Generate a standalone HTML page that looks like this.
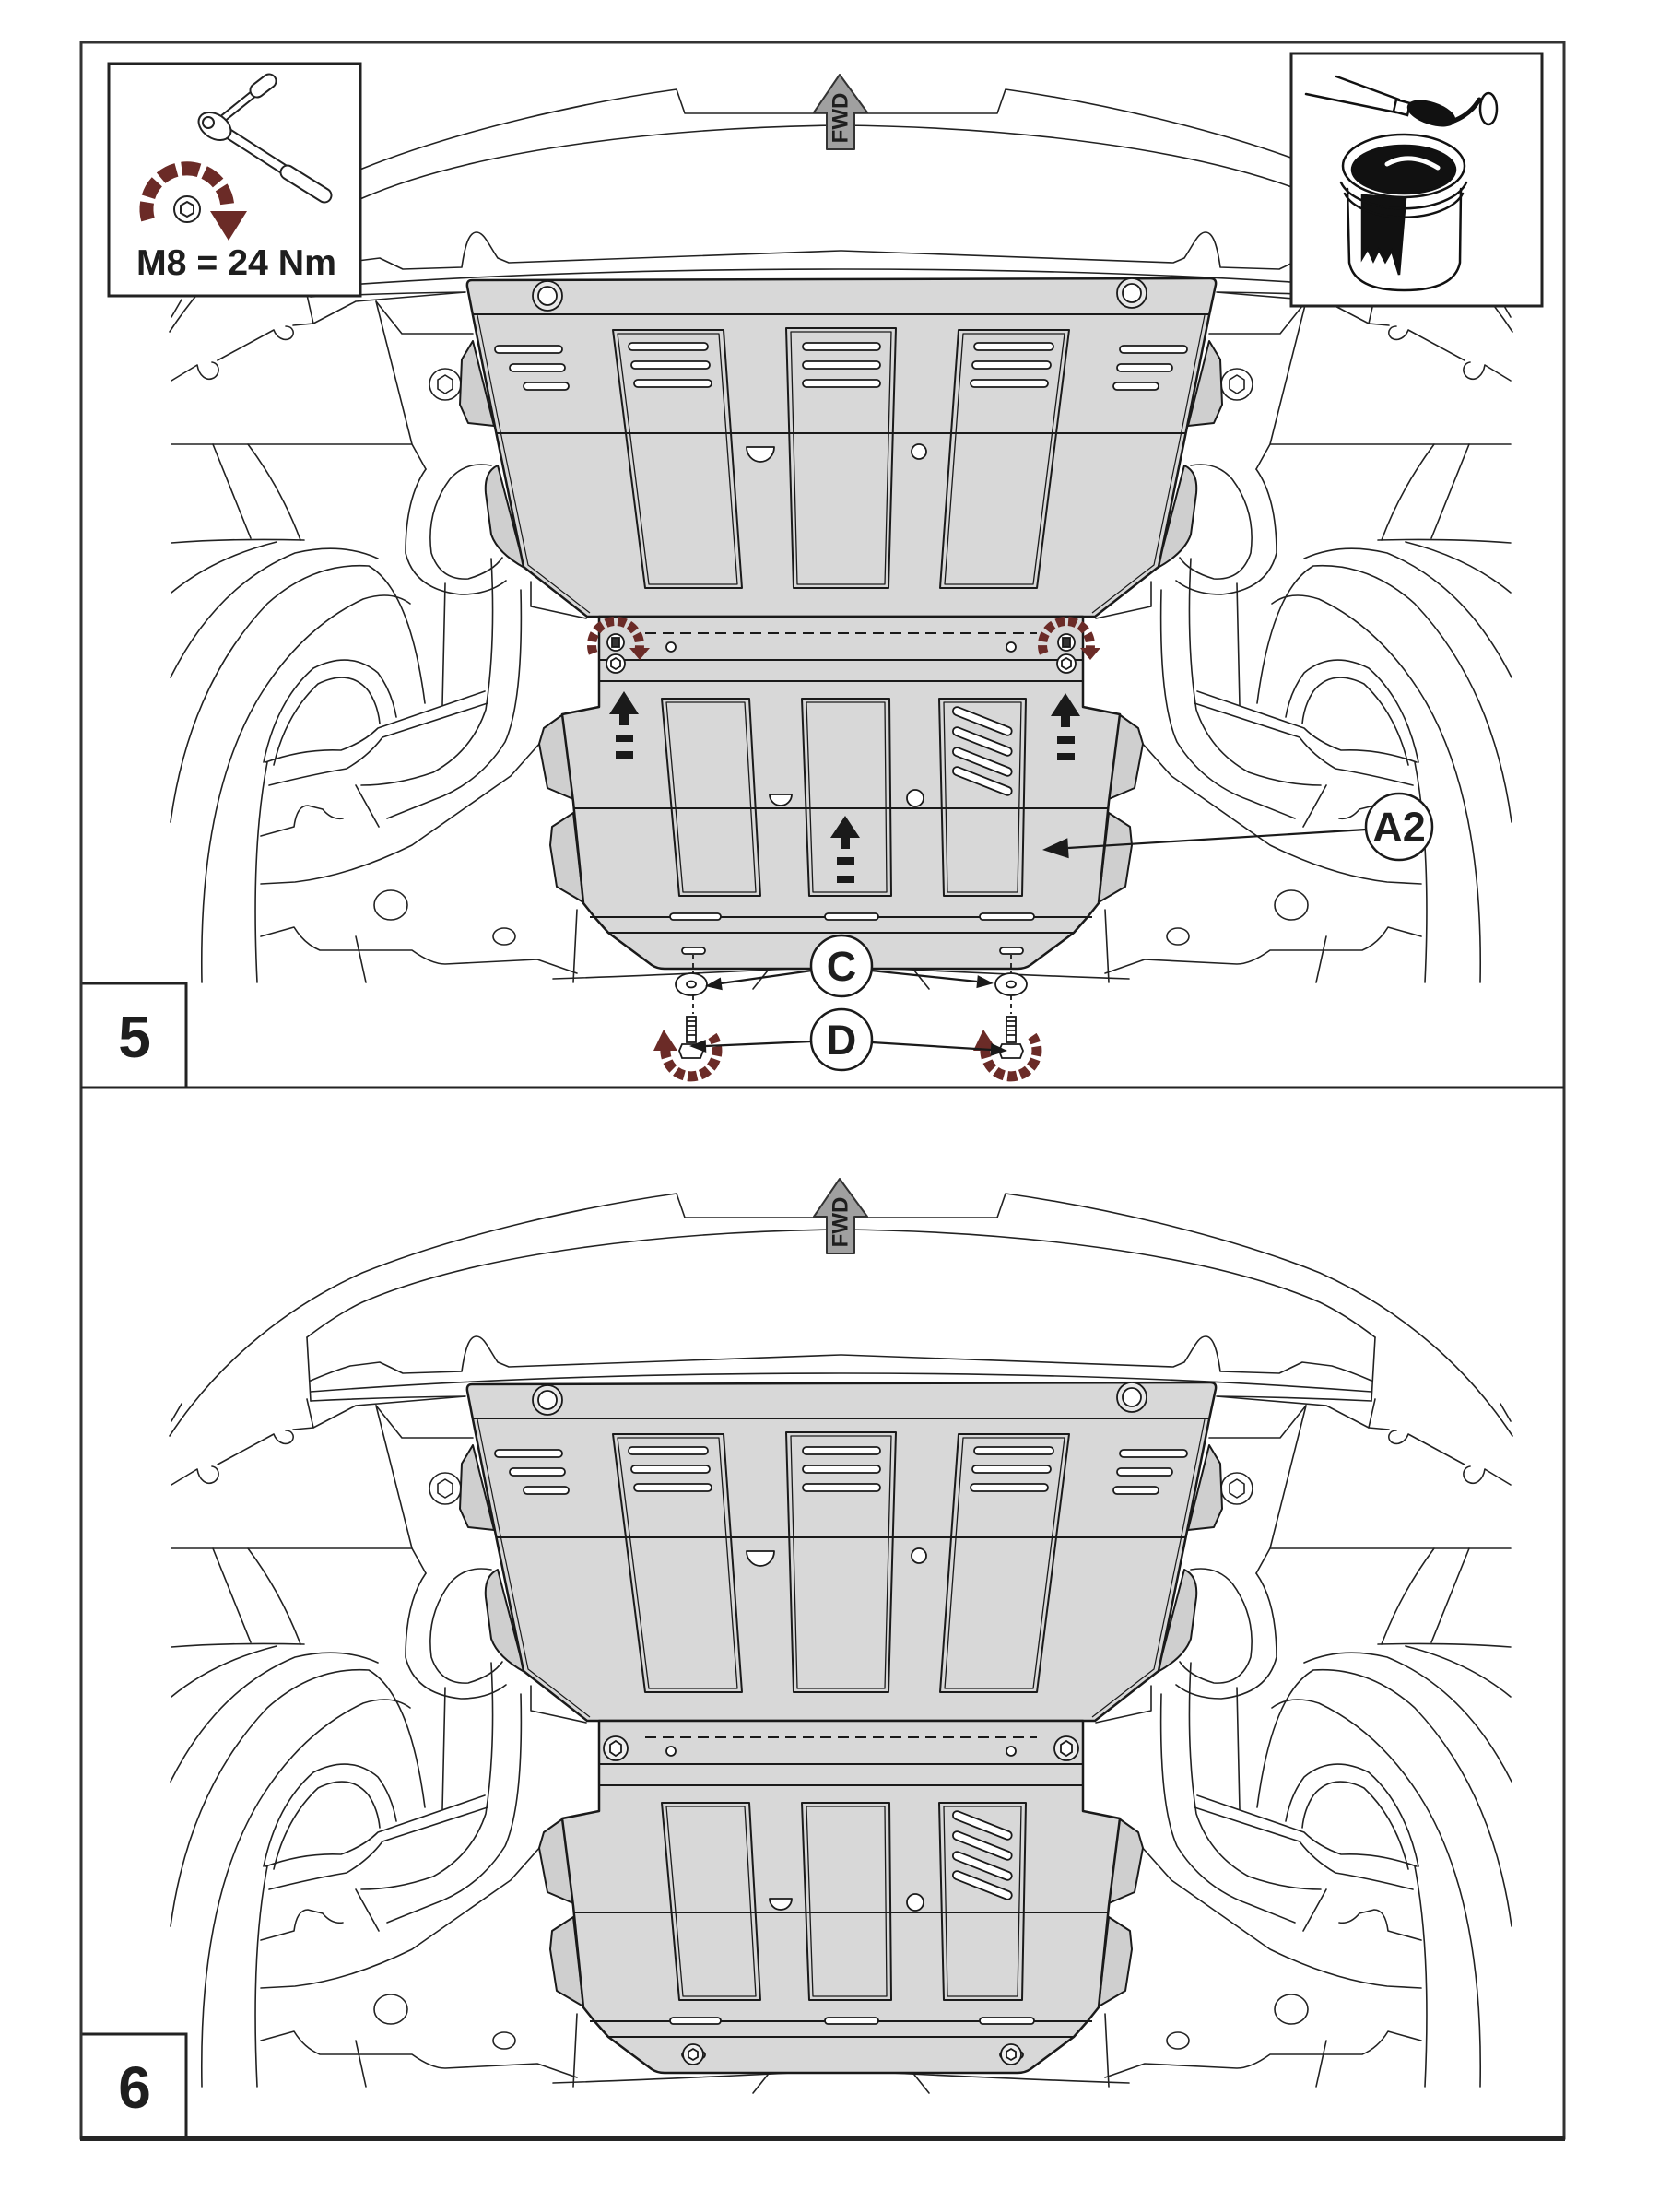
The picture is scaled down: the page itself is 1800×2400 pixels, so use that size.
<!DOCTYPE html>
<html><head><meta charset="utf-8"><style>
html,body{margin:0;padding:0;background:#fff;}
svg{display:block;}
text{font-family:"Liberation Sans",Arial,sans-serif;font-weight:bold;fill:#1e1e1e;}
</style></head><body>
<svg width="1800" height="2400" viewBox="0 0 1800 2400" xmlns="http://www.w3.org/2000/svg">
<defs>
<clipPath id="c5"><rect x="90" y="48" width="1605" height="1130"/></clipPath>
<clipPath id="c6"><rect x="90" y="1182" width="1605" height="1134"/></clipPath>

<g id="bgL" fill="none" stroke="#222" stroke-width="1.6" stroke-linejoin="round" stroke-linecap="round">
<path d="M184 360 C230 290 300 225 393 183 C500 140 640 110 734 97 L743 123 L912 123"/>
<path d="M333 253 C350 240 370 226 393 215 C520 160 730 138 912 136"/>
<path d="M333 253 L337 322"/>
<path d="M337 300 Q360 290 380 284 L412 280 L437 292 L501 290 C505 262 510 252 517 252 C525 252 530 265 540 280 L552 285 L912 272"/>
<path d="M337 312 Q600 292 912 292"/>
<path d="M337 322 Q420 318 504 317"/>
<path d="M186 413 L214 396 C216 408 224 414 232 410 C240 405 238 394 230 393 M236 391 L297 358 C300 366 308 371 315 367 C321 362 318 354 310 354 M318 353 L340 351 L386 327 L505 317"/>
<path d="M186 344 L197 325"/>
<path d="M333 320 L340 351"/>
<path d="M408 327 L436 362 L513 362"/>
<path d="M408 327 L447 482 L462 509"/>
<path d="M186 482 L447 482"/>
<path d="M231 482 L272 584"/>
<path d="M269 482 Q305 530 326 586"/>
<path d="M186 589 Q250 584 330 586"/>
<path d="M186 643 Q232 605 300 588"/>
<path d="M185 735 Q235 635 320 600 Q370 588 410 606"/>
<path d="M185 892 Q205 745 290 655 Q340 610 400 614 Q445 640 461 763"/>
<path d="M219 1066 Q215 860 285 750 Q330 680 394 650 Q425 640 445 655"/>
<path d="M279 1066 Q272 920 290 827"/>
<path d="M286 827 Q300 760 340 725 Q380 705 410 730 Q425 750 430 778"/>
<path d="M297 830 Q310 775 345 742 Q380 725 400 750 Q410 765 412 785"/>
<path d="M288 827 Q330 812 370 814 Q395 805 410 790 L526 750"/>
<path d="M292 852 Q340 840 376 834 Q400 820 415 800 L529 763"/>
<path d="M283 959 L320 957 Q380 950 447 917 Q500 880 554 842 L611 778"/>
<path d="M283 1016 L319 1006 Q330 1024 347 1031 L447 1031 Q468 1046 483 1046 L583 1041 L626 1056"/>
<path d="M283 907 L319 897 Q322 874 334 874 L350 878 Q360 890 372 888"/>
<path d="M386 852 L411 897"/>
<ellipse cx="424" cy="982" rx="18" ry="16"/>
<ellipse cx="547" cy="1016" rx="12" ry="9"/>
<path d="M533 606 Q538 700 527 770 Q512 815 470 838 Q430 852 392 852"/>
<path d="M565 640 Q568 760 548 805 Q520 850 470 868 Q440 880 420 888"/>
<path d="M462 509 Q440 540 440 600 Q450 640 500 645 Q530 645 549 630"/>
<path d="M533 505 Q505 500 488 520 Q462 555 468 600 Q478 630 508 628 Q535 620 545 605"/>
<path d="M483 633 L480 765"/>
<path d="M576 631 L576 658 L636 671"/>
<path d="M626 987 L622 1066"/>
<path d="M600 1062 Q720 1058 880 1050"/>
<path d="M817 1073 L833 1053"/>
<path d="M386 1016 L397 1066"/>
<circle cx="483" cy="417" r="17"/>
<path d="M475 412 L483 407 L491 412 L491 422 L483 427 L475 422 Z"/>
</g>

<g id="scene">
<use href="#bgL"/>
<use href="#bgL" transform="matrix(-1 0 0 1 1825 0)"/>
<g stroke="#1a1a1a" stroke-width="2" stroke-linejoin="round">
<path fill="#cfcfcf" d="M513 370 L501 390 L499 439 L508 459 L536 462 Z"/>
<path fill="#cfcfcf" d="M1312 370 L1324 390 L1326 439 L1317 459 L1289 462 Z"/>
<path fill="#cfcfcf" d="M540 505 Q525 512 527 535 L533 580 Q540 600 569 616 Z"/>
<path fill="#cfcfcf" d="M1285 505 Q1300 512 1298 535 L1292 580 Q1285 600 1256 616 Z"/>
<path fill="#cfcfcf" d="M611 775 L590 790 L585 807 L594 855 L622 867 Z"/>
<path fill="#cfcfcf" d="M1214 775 L1235 790 L1240 807 L1231 855 L1203 867 Z"/>
<path fill="#cfcfcf" d="M622 882 L599 897 L597 917 L604 962 L633 979 Z"/>
<path fill="#cfcfcf" d="M1203 882 L1226 897 L1228 917 L1221 962 L1192 979 Z"/>
<path fill="#d8d8d8" stroke-width="2.5" d="M512 304 L1313 302 Q1320 302 1319 309 L1312 342 L1287 468 L1257 615 L1188 669 L637 669 L568 615 L538 468 L513 342 L507 311 Q506 304 512 304 Z"/>
<path fill="#d8d8d8" stroke-width="2.5" d="M650 669 L1175 669 L1175 767 L1215 775 L1203 870 L1192 980 L1180 995 L1165 1012 L1118 1047 Q1112 1051 1104 1051 L721 1051 Q713 1051 707 1047 L660 1012 L645 995 L633 980 L622 870 L610 775 L650 767 Z"/>
<g fill="none">
<path d="M513 341 L1312 341"/>
<path d="M538 470 L1287 470"/>
<path stroke-width="1.2" d="M518 342 L543 468 L573 613 L640 665"/>
<path stroke-width="1.2" d="M1307 342 L1282 468 L1252 613 L1185 665"/>
<path d="M700 687 L1125 687" stroke-dasharray="12 7"/>
<path d="M650 716 L1175 716"/>
<path d="M650 739 L1175 739"/>
<path d="M622 877 L1203 877"/>
<path d="M640 995 L1185 995"/>
<path d="M660 1012 L1165 1012"/>
<path d="M665 358 L785 358 L805 638 L700 638 Z"/>
<path stroke-width="1.3" d="M670 362 L780 362 L800 634 L704 634 Z"/>
<path d="M853 356 L972 356 L964 638 L861 638 Z"/>
<path stroke-width="1.3" d="M858 360 L967 360 L960 634 L865 634 Z"/>
<path d="M1160 358 L1040 358 L1020 638 L1125 638 Z"/>
<path stroke-width="1.3" d="M1155 362 L1045 362 L1025 634 L1121 634 Z"/>
<path d="M718 758 L813 758 L825 972 L737 972 Z"/>
<path stroke-width="1.3" d="M723 762 L808 762 L820 968 L741 968 Z"/>
<path d="M870 758 L965 758 L967 972 L878 972 Z"/>
<path stroke-width="1.3" d="M875 762 L960 762 L962 968 L882 968 Z"/>
<path d="M1019 758 L1113 758 L1109 972 L1024 972 Z"/>
<path stroke-width="1.3" d="M1024 762 L1108 762 L1104 968 L1028 968 Z"/>
</g>
<g fill="#fff" stroke-width="1.8">
<rect x="537" y="375" width="73" height="8" rx="4"/>
<rect x="553" y="395" width="60" height="8" rx="4"/>
<rect x="568" y="415" width="49" height="8" rx="4"/>
<rect x="1215" y="375" width="73" height="8" rx="4"/>
<rect x="1212" y="395" width="60" height="8" rx="4"/>
<rect x="1208" y="415" width="49" height="8" rx="4"/>
<rect x="682" y="372" width="86" height="8" rx="4"/>
<rect x="685" y="392" width="85" height="8" rx="4"/>
<rect x="688" y="412" width="84" height="8" rx="4"/>
<rect x="871" y="372" width="84" height="8" rx="4"/>
<rect x="871" y="392" width="84" height="8" rx="4"/>
<rect x="871" y="412" width="84" height="8" rx="4"/>
<rect x="1057" y="372" width="86" height="8" rx="4"/>
<rect x="1055" y="392" width="85" height="8" rx="4"/>
<rect x="1053" y="412" width="84" height="8" rx="4"/>
<path d="M810 485 L840 485 A15 16 0 0 1 810 485 Z"/>
<circle cx="997" cy="490" r="8"/>
<path d="M835 862 L859 862 A12 12 0 0 1 835 862 Z"/>
<circle cx="993" cy="866" r="9"/>
<circle cx="728" cy="702" r="5"/>
<circle cx="1097" cy="702" r="5"/>
<rect x="727" y="991" width="55" height="7" rx="3.5"/>
<rect x="895" y="991" width="58" height="7" rx="3.5"/>
<rect x="1063" y="991" width="59" height="7" rx="3.5"/>
<rect x="740" y="1028" width="25" height="7" rx="3.5"/>
<rect x="1085" y="1028" width="25" height="7" rx="3.5"/>
<g transform="rotate(21.6 1066 782)"><rect x="1032" y="778" width="68" height="9" rx="4.5"/></g>
<g transform="rotate(21.6 1066 804)"><rect x="1032" y="800" width="68" height="9" rx="4.5"/></g>
<g transform="rotate(21.6 1066 826)"><rect x="1032" y="822" width="68" height="9" rx="4.5"/></g>
<g transform="rotate(21.6 1066 847)"><rect x="1032" y="843" width="68" height="9" rx="4.5"/></g>
<circle cx="594" cy="321" r="16" fill="#e8e8e8"/>
<circle cx="594" cy="321" r="10"/>
<circle cx="1228" cy="318" r="16" fill="#e8e8e8"/>
<circle cx="1228" cy="318" r="10"/>
</g>
</g>
<path d="M911 81 L941 122 L927 122 L927 162 L897 162 L897 122 L883 122 Z" fill="#a0a0a0" stroke="#333" stroke-width="2" stroke-linejoin="round"/>
</g>
</defs>

<!-- panel 5 -->
<g clip-path="url(#c5)"><use href="#scene"/></g>
<text transform="translate(912,128) rotate(-90)" font-size="24" text-anchor="middle" dominant-baseline="central">FWD</text>

<!-- panel 5 overlays -->
<g stroke="#1a1a1a" stroke-width="1.8">
<circle cx="668" cy="697" r="9" fill="#fff"/><rect x="664" y="692" width="8" height="10" fill="#333"/>
<circle cx="668" cy="720" r="10" fill="#fff"/><path d="M663 717 L668 714 L673 717 L673 723 L668 726 L663 723 Z" fill="#fff"/>
<circle cx="1157" cy="697" r="9" fill="#fff"/><rect x="1153" y="692" width="8" height="10" fill="#333"/>
<circle cx="1157" cy="720" r="10" fill="#fff"/><path d="M1152 717 L1157 714 L1162 717 L1162 723 L1157 726 L1152 723 Z" fill="#fff"/>
</g>
<g fill="none" stroke="#6b2b27" stroke-width="10" stroke-dasharray="9 4">
<path d="M643.6 708.9 A26 26 0 1 1 693.6 704.5"/>
<path d="M1132.6 708.9 A26 26 0 1 1 1182.6 704.5"/>
</g>
<g fill="#6b2b27">
<path d="M683 703 L705 703 L694 716 Z"/>
<path d="M1172 703 L1194 703 L1183 716 Z"/>
</g>
<g fill="#1a1a1a">
<path d="M677 750 L693 775 L682 775 L682 787 L672 787 L672 775 L661 775 Z"/><rect x="668" y="797" width="19" height="8"/><rect x="668" y="815" width="19" height="8"/>
<path d="M1156 752 L1172 777 L1161 777 L1161 789 L1151 789 L1151 777 L1140 777 Z"/><rect x="1147" y="799" width="19" height="8"/><rect x="1147" y="817" width="19" height="8"/>
<path d="M917 885 L933 909 L922 909 L922 921 L912 921 L912 909 L901 909 Z"/><rect x="908" y="930" width="19" height="8"/><rect x="908" y="950" width="19" height="8"/>
</g>

<!-- C / D hardware -->
<g stroke="#1a1a1a" stroke-width="1.8" fill="none">
<path d="M752 1036 L752 1056 M752 1080 L752 1100 M1097 1036 L1097 1056 M1097 1080 L1097 1100" stroke-dasharray="5 4"/>
<ellipse cx="750" cy="1068" rx="17" ry="12" fill="#fff"/><ellipse cx="750" cy="1068" rx="5" ry="3.5"/>
<ellipse cx="1097" cy="1068" rx="17" ry="12" fill="#fff"/><ellipse cx="1097" cy="1068" rx="5" ry="3.5"/>
<rect x="745" y="1103" width="10" height="28" fill="#fff"/>
<path d="M745 1108 L755 1108 M745 1113 L755 1113 M745 1118 L755 1118 M745 1123 L755 1123"/>
<path d="M740 1133 L760 1133 L763 1140 L760 1148 L740 1148 L737 1140 Z" fill="#fff"/>
<rect x="1092" y="1103" width="10" height="28" fill="#fff"/>
<path d="M1092 1108 L1102 1108 M1092 1113 L1102 1113 M1092 1118 L1102 1118 M1092 1123 L1102 1123"/>
<path d="M1087 1133 L1107 1133 L1110 1140 L1107 1148 L1087 1148 L1084 1140 Z" fill="#fff"/>
</g>
<g fill="none" stroke="#6b2b27" stroke-width="11" stroke-dasharray="10 4">
<path d="M722 1138 A28 28 0 1 0 773 1124"/>
<path d="M1069 1138 A28 28 0 1 0 1120 1124"/>
</g>
<g fill="#6b2b27">
<path d="M709 1140 L735 1140 L720 1117 Z"/>
<path d="M1056 1140 L1082 1140 L1067 1117 Z"/>
</g>
<g stroke="#1a1a1a" stroke-width="2.2" fill="none">
<path d="M881 1053 L782 1067"/>
<path d="M945 1053 L1060 1065"/>
<path d="M880 1130 L766 1135"/>
<path d="M946 1131 L1075 1139"/>
<path d="M1482 900 L1159 920"/>
</g>
<g fill="#1a1a1a">
<path d="M765 1070 L783.8 1074.3 L781.8 1060.5 Z"/>
<path d="M1078 1067 L1059.4 1072.1 L1060.8 1058.1 Z"/>
<path d="M748 1135 L766.3 1142 L765.7 1128 Z"/>
<path d="M1093 1140 L1074.6 1145.9 L1075.4 1131.9 Z"/>
<path d="M1131 922 L1159.7 931.2 L1158.3 909.2 Z"/>
</g>
<g fill="#fff" stroke="#1a1a1a" stroke-width="2.5">
<circle cx="913" cy="1048" r="33"/>
<circle cx="913" cy="1128" r="33"/>
<circle cx="1518" cy="897" r="36"/>
</g>
<text x="913" y="1064" font-size="45" text-anchor="middle">C</text>
<text x="913" y="1144" font-size="45" text-anchor="middle">D</text>
<text x="1518" y="913" font-size="45" text-anchor="middle">A2</text>

<!-- tool box -->
<rect x="118" y="69" width="273" height="252" fill="#fff" stroke="#222" stroke-width="3"/>
<g stroke="#222" stroke-linecap="round" fill="none">
<path d="M240 140 L352 212" stroke-width="12"/>
<path d="M240 140 L352 212" stroke="#fff" stroke-width="8"/>
<path d="M312 187 L352 212" stroke-width="17"/>
<path d="M312 187 L352 212" stroke="#fff" stroke-width="13"/>
<path d="M240 130 L276 101" stroke-width="9"/>
<path d="M240 130 L276 101" stroke="#fff" stroke-width="5"/>
<path d="M279 98 L292 88" stroke-width="17"/>
<path d="M279 98 L292 88" stroke="#fff" stroke-width="13"/>
</g>
<g stroke="#222" stroke-width="2" fill="#fff">
<ellipse cx="233" cy="137" rx="19" ry="13" transform="rotate(33 233 137)"/>
<circle cx="226" cy="133" r="6"/>
<circle cx="203" cy="227" r="14"/>
<path d="M196 223 L203 219 L210 223 L210 231 L203 235 L196 231 Z"/>
</g>
<path d="M160.5 238.4 A44 44 0 1 1 246.8 223.2" fill="none" stroke="#6b2b27" stroke-width="15" stroke-dasharray="19 6"/>
<path d="M228 229 L268 229 L248 261 Z" fill="#6b2b27"/>
<text x="148" y="298" font-size="39" textLength="217" lengthAdjust="spacingAndGlyphs">M8 = 24 Nm</text>

<!-- paint box -->
<rect x="1401" y="58" width="272" height="274" fill="#fff" stroke="#222" stroke-width="3"/>
<g stroke="#111" stroke-width="2.5" fill="none" stroke-linecap="round">
<path d="M1417 102 L1515 122"/>
<path d="M1450 83 L1518 108"/>
<path d="M1515 108 L1530 112 L1527 125 L1512 121 Z" fill="#fff"/>
<ellipse cx="1553" cy="123" rx="26" ry="11" transform="rotate(18 1553 123)" fill="#111"/>
<path d="M1575 132 Q1595 125 1605 108" stroke-width="5"/>
<ellipse cx="1615" cy="118" rx="9" ry="17" fill="#fff"/>
<path d="M1462 205 L1464 285 Q1470 315 1523 315 Q1578 315 1584 285 L1585 205" fill="#fff"/>
<path d="M1478 212 L1478 280 L1484 270 L1490 283 L1496 271 L1503 284 L1510 272 L1518 298 L1525 215 Z" fill="#111"/>
<path d="M1455 198 A70 37 0 0 0 1591 198"/>
<path d="M1459 210 A66 34 0 0 0 1587 210"/>
<ellipse cx="1523" cy="180" rx="66" ry="34" fill="#fff"/>
<ellipse cx="1523" cy="184" rx="56" ry="26" fill="#111"/>
<path d="M1505 178 Q1530 164 1560 182" stroke="#fff" stroke-width="5"/>
</g>

<!-- frame panel 5 -->
<rect x="88" y="1067" width="114" height="113" fill="#fff" stroke="#222" stroke-width="3"/>
<text x="146" y="1147" font-size="64" text-anchor="middle">5</text>

<!-- panel 6 -->
<g clip-path="url(#c6)"><use href="#scene" y="1198"/></g>
<text transform="translate(912,1326) rotate(-90)" font-size="24" text-anchor="middle" dominant-baseline="central">FWD</text>
<g stroke="#1a1a1a" stroke-width="1.8" fill="#eee">
<circle cx="668" cy="1897" r="13"/><path d="M662 1893 L668 1889 L674 1893 L674 1901 L668 1905 L662 1901 Z" fill="#fff"/>
<circle cx="1157" cy="1897" r="13"/><path d="M1151 1893 L1157 1889 L1163 1893 L1163 1901 L1157 1905 L1151 1901 Z" fill="#fff"/>
<circle cx="752" cy="2229" r="11"/><path d="M747 2226 L752 2223 L757 2226 L757 2232 L752 2235 L747 2232 Z" fill="#fff"/>
<circle cx="1097" cy="2229" r="11"/><path d="M1092 2226 L1097 2223 L1102 2226 L1102 2232 L1097 2235 L1092 2232 Z" fill="#fff"/>
</g>
<rect x="88" y="2207" width="114" height="113" fill="#fff" stroke="#222" stroke-width="3"/>
<text x="146" y="2287" font-size="64" text-anchor="middle">6</text>

<!-- outer frame -->
<rect x="88" y="46" width="1609" height="2274" fill="none" stroke="#333" stroke-width="3"/>
<line x1="88" y1="1180" x2="1697" y2="1180" stroke="#222" stroke-width="3"/>
<rect x="87" y="2317" width="1611" height="6" fill="#262626"/>
</svg>
</body></html>
